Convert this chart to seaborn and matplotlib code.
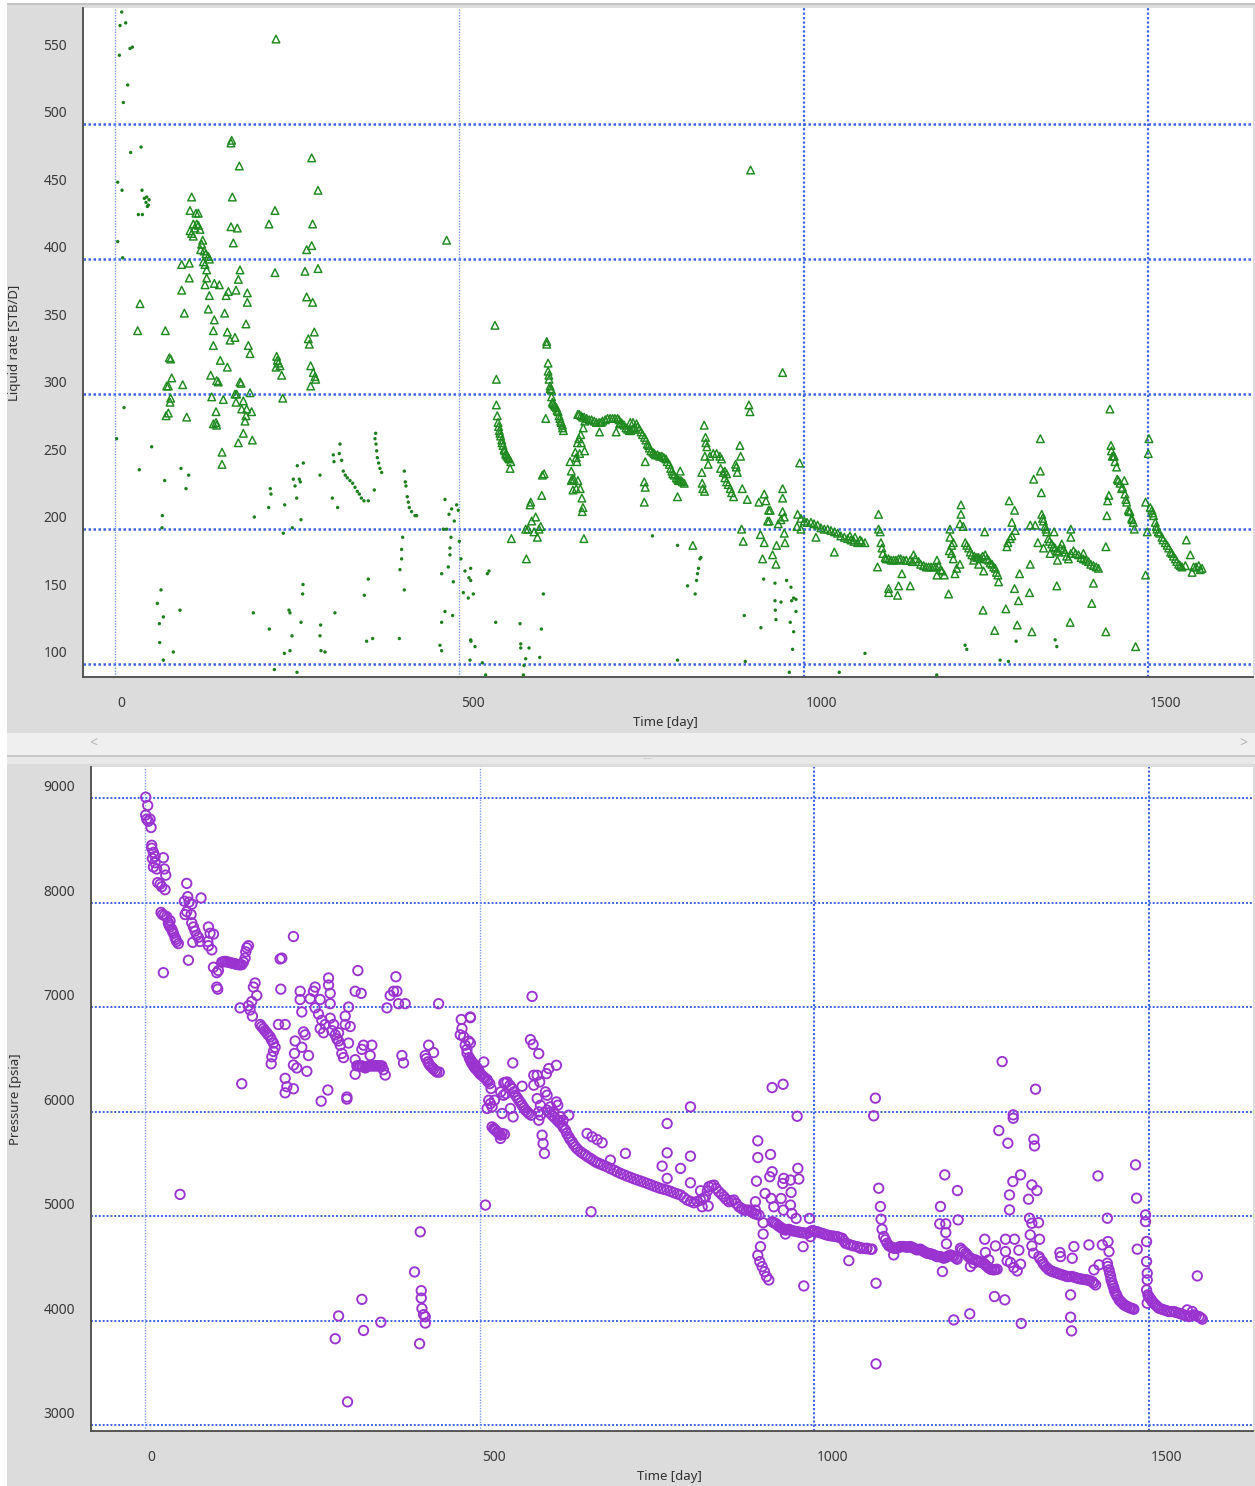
import numpy as np
import matplotlib
matplotlib.use("Agg")
import matplotlib.pyplot as plt
import matplotlib.transforms as mtransforms
from matplotlib.patches import Rectangle
from matplotlib.ticker import MultipleLocator, FixedLocator
import seaborn as sns

# ---------------------------------------------------------------- data
# Liquid rate, triangles (day, STB/D)
rate_tri = [
    (233.8, 563), (169.4, 488), (168.4, 486), (285.6, 475), (180.5, 469), (294.8, 451),
    (111.3, 446), (170.4, 446), (232.3, 436), (108.9, 436), (117.6, 434), (121.0, 434),
    (113.7, 426), (118.6, 426), (121.0, 425), (123.4, 422), (116.1, 423), (108.9, 421),
    (111.3, 419), (113.7, 417), (168.4, 424), (177.6, 423), (223.6, 426), (287.0, 426),
    (127.3, 414), (125.8, 411), (124.4, 407), (129.2, 406), (132.1, 404), (135.5, 402),
    (137.0, 400), (128.3, 398), (130.7, 396), (171.8, 412), (285.6, 410), (278.3, 407),
    (96.8, 396), (107.9, 397), (133.1, 392), (133.1, 386), (130.7, 381),
    (181.5, 392), (179.1, 385), (175.7, 377), (164.6, 376), (161.2, 373),
    (232.3, 390), (275.9, 391), (294.8, 393), (107.9, 386), (96.8, 377), (144.2, 382),
    (151.5, 381), (137.0, 373), (192.1, 375), (192.1, 368), (278.3, 372), (287.0, 368),
    (36.3, 367), (135.5, 363), (159.2, 360), (100.7, 360), (190.2, 352),
    (144.2, 355), (142.8, 347), (163.1, 346), (174.2, 342), (167.0, 340), (289.4, 346),
    (280.7, 341), (282.2, 337), (32.9, 347), (73.1, 347), (142.8, 336), (193.6, 336),
    (196.0, 330), (78.9, 327), (80.8, 326), (234.7, 328), (235.7, 325), (237.2, 323),
    (239.6, 321), (233.8, 320), (242.0, 314), (152.9, 325), (163.1, 320),
    (284.1, 321), (287.9, 316), (290.4, 313), (291.4, 311), (284.1, 306),
    (82.3, 312), (98.3, 307), (138.9, 314), (147.6, 310), (150.1, 309), (75.0, 306),
    (77.4, 306), (183.0, 308), (181.5, 309), (243.5, 297), (174.2, 300), (176.6, 300),
    (196.0, 301), (140.4, 298), (157.3, 296), (175.7, 294), (186.3, 295), (80.8, 297),
    (79.9, 294), (146.7, 287), (183.9, 289), (191.2, 289), (198.4, 287), (190.2, 284),
    (188.8, 280), (77.4, 286), (74.1, 284), (104.1, 283), (146.7, 279), (142.8, 278),
    (147.6, 277), (186.3, 271), (199.4, 266), (179.1, 264), (155.4, 257), (155.4, 248),
    (481.6, 414), (923.0, 466),
    (551.8, 351), (553.8, 311), (553.8, 292),
    (555.1, 284), (556.2, 279), (558.1, 273), (560.0, 269), (561.6, 266), (563.5, 262),
    (565.0, 259), (567.4, 256), (569.8, 254), (572.3, 252), (574.7, 250), (573.7, 245),
    (557.0, 276), (559.0, 271), (562.0, 264), (566.0, 258), (568.0, 255), (571.0, 253),
    (626.9, 339), (626.9, 337),
    (628.9, 323), (628.9, 317), (630.3, 311), (631.8, 306), (633.7, 303), (635.2, 294),
    (637.6, 292), (641.0, 290), (643.4, 287), (644.9, 284), (647.3, 280), (649.7, 277),
    (651.2, 273), (630.0, 314), (632.0, 304), (634.0, 298), (636.0, 293), (639.0, 291),
    (642.0, 288), (646.0, 282), (648.0, 279), (650.0, 275),
    (625.5, 282), (623.1, 241), (620.6, 240), (619.7, 225),
    (603.7, 220), (602.8, 218), (605.1, 206), (610.9, 209), (615.8, 200), (608.5, 198),
    (613.4, 194), (599.8, 200), (596.4, 200), (618.2, 202), (597.4, 178), (575.6, 193),
    (660.8, 250), (662.6, 243), (664.0, 237), (662.6, 236), (666.5, 237), (665.0, 229),
    (669.8, 230), (675.6, 230), (672.2, 236), (668.4, 257), (669.8, 253), (670.8, 250),
    (674.7, 256), (677.1, 264), (681.9, 258), (680.9, 193), (678.0, 223), (679.5, 216),
    (678.5, 213), (671.5, 264), (673.6, 267), (676.3, 270), (680.0, 275), (682.2, 280),
    (672.0, 285), (676.5, 284), (681.3, 283), (688.6, 281), (695.9, 280), (703.1, 279),
    (708.0, 280), (715.2, 282), (722.5, 282), (729.8, 282), (734.6, 279), (739.4, 277),
    (744.3, 274), (749.1, 273), (754.0, 275), (757.4, 278), (761.3, 274), (766.1, 270),
    (771.0, 266), (774.8, 262), (778.2, 258), (783.0, 256), (787.9, 255), (794.2, 254),
    (800.0, 252), (804.9, 248), (808.7, 243), (812.1, 240), (817.0, 237), (821.8, 236),
    (826.7, 234),
    (674.0, 285), (679.0, 283), (685.0, 282), (692.0, 281), (699.0, 279), (706.0, 279),
    (712.0, 281), (719.0, 282), (726.0, 282), (732.0, 281), (737.0, 278), (742.0, 275),
    (747.0, 273), (752.0, 274), (759.0, 276), (764.0, 272), (769.0, 268), (773.0, 263),
    (776.0, 260), (781.0, 257), (785.0, 255), (791.0, 254), (797.0, 253), (802.0, 250),
    (807.0, 245), (810.0, 241), (815.0, 238), (819.0, 236), (824.0, 235),
    (703.6, 272), (727.8, 272), (732.7, 278), (748.3, 279), (752.2, 279),
    (770.0, 250), (768.6, 235), (770.0, 231), (768.6, 220), (816.9, 224), (818.4, 236),
    (820.8, 243), (839.1, 188), (852.2, 242), (852.7, 234), (853.6, 230), (856.1, 228),
    (855.6, 277), (857.5, 268), (858.0, 264), (859.5, 261), (856.6, 254), (863.9, 254),
    (868.7, 256), (873.6, 256), (878.4, 254), (880.8, 252), (861.4, 248),
    (879.4, 245), (883.2, 242), (885.6, 238), (888.1, 235), (890.5, 233), (893.4, 230),
    (895.4, 227), (898.3, 224), (885.6, 243), (888.1, 241),
    (901.2, 248), (903.7, 242), (902.2, 246), (907.5, 262), (908.5, 254), (910.9, 230),
    (918.2, 222), (920.6, 292), (922.1, 287), (935.0, 220), (969.5, 316),
    (969.5, 230), (969.5, 223), (942.8, 226), (945.3, 221), (949.1, 214), (951.5, 214),
    (947.7, 206), (950.1, 206), (937.3, 196), (942.8, 190), (940.4, 178), (954.9, 181),
    (959.8, 174), (960.7, 188), (969.5, 213), (971.9, 209), (971.9, 197), (972.9, 190),
    (963.2, 204), (967.1, 207), (994.2, 249), (909.9, 200), (912.3, 191),
    (991.3, 211), (996.1, 208), (1001.0, 206), (1010.7, 205), (1020.3, 203), (1030.0, 200),
    (1039.7, 199), (1049.4, 197), (1059.1, 194), (1068.8, 192), (1078.5, 190),
    (1005.0, 205), (1015.0, 204), (1025.0, 201), (1035.0, 200), (1045.0, 198),
    (1054.0, 195), (1064.0, 193), (1073.0, 191), (1084.0, 191),
    (990.3, 202), (996.1, 200), (1017.9, 194), (1044.6, 183),
    (1067.3, 195), (1074.6, 194), (1081.9, 192), (1089.1, 190),
    (1108.8, 211), (1108.8, 200), (1111.2, 198), (1112.2, 190), (1113.7, 186), (1115.1, 182),
    (1118.5, 179), (1123.4, 178), (1130.6, 177), (1137.9, 178), (1145.2, 177), (1154.9, 177),
    (1162.1, 178), (1167.0, 176), (1174.2, 173), (1181.5, 172), (1188.8, 172), (1196.0, 173),
    (1200.9, 169),
    (1120.0, 178), (1127.0, 177), (1134.0, 177), (1141.0, 178), (1149.0, 177), (1158.0, 176),
    (1170.0, 174), (1178.0, 172), (1185.0, 172), (1192.0, 172), (1199.0, 170),
    (1107.3, 172), (1123.4, 156), (1123.4, 153), (1137.9, 158), (1136.4, 151),
    (1142.7, 167), (1154.9, 158), (1159.7, 181), (1193.6, 177), (1193.6, 166), (1210.6, 152),
    (1204.3, 166), (1212.5, 200), (1212.5, 194), (1211.6, 184), (1215.0, 182), (1217.4, 178),
    (1219.8, 167), (1222.3, 171), (1215.0, 188), (1217.4, 190),
    (1228.5, 218), (1228.5, 211), (1227.0, 204), (1231.9, 202), (1227.0, 174),
    (1234.7, 190), (1239.6, 186), (1244.4, 181), (1251.7, 179), (1256.5, 178), (1263.8, 181),
    (1268.6, 177), (1273.5, 174), (1278.3, 171), (1282.2, 166), (1283.2, 161),
    (1237.0, 188), (1242.0, 183), (1248.0, 180), (1254.0, 179), (1260.0, 180),
    (1266.0, 178), (1271.0, 175), (1276.0, 172), (1280.0, 168),
    (1246.9, 177), (1254.1, 174), (1261.4, 169), (1262.9, 198), (1260.5, 140), (1277.4, 125),
    (1293.7, 141), (1298.5, 221), (1302.4, 205), (1306.3, 214), (1302.4, 195), (1307.2, 199),
    (1296.6, 190), (1295.1, 187), (1300.0, 193), (1306.3, 156), (1312.1, 147), (1310.2, 129),
    (1313.6, 167), (1329.1, 174), (1328.1, 153), (1331.5, 124),
    (1343.8, 267), (1343.8, 243), (1334.1, 237), (1345.3, 227),
    (1329.1, 203), (1336.3, 203), (1340.2, 190), (1348.4, 186),
    (1345.8, 211), (1348.2, 206), (1350.7, 202), (1353.1, 198), (1355.5, 193), (1360.4, 189),
    (1365.2, 186), (1370.1, 183), (1374.9, 189), (1379.8, 183), (1384.6, 178), (1391.9, 184),
    (1399.2, 181), (1406.4, 178), (1413.7, 176), (1421.0, 173), (1428.2, 171),
    (1347.0, 208), (1352.0, 200), (1357.0, 191), (1363.0, 187), (1368.0, 184),
    (1373.0, 186), (1377.0, 185), (1382.0, 180), (1388.0, 182), (1395.0, 182),
    (1403.0, 179), (1410.0, 177), (1417.0, 174), (1425.0, 172),
    (1363.7, 198), (1357.9, 182), (1368.6, 177), (1388.0, 200), (1388.0, 194), (1406.4, 182),
    (1367.7, 158), (1387.1, 131), (1418.5, 145), (1420.9, 160), (1438.9, 187), (1440.4, 210),
    (1438.9, 124), (1482.1, 113), (1496.6, 166), (1499.0, 198), (1496.6, 220), (1500.5, 256),
    (1501.5, 267),
    (1441.4, 221), (1443.3, 225), (1444.8, 289), (1446.3, 262), (1448.2, 254), (1451.1, 254),
    (1452.1, 250), (1454.5, 246), (1455.5, 237), (1459.4, 234), (1461.8, 230), (1465.7, 236),
    (1466.6, 226), (1469.1, 220), (1471.5, 214), (1473.9, 213), (1476.4, 208), (1478.8, 205),
    (1480.2, 200), (1447.0, 258), (1450.0, 254), (1457.0, 236), (1463.0, 231),
    (1468.0, 222), (1473.0, 213), (1477.0, 207),
    (1503.4, 216), (1505.8, 214), (1508.2, 210), (1510.7, 205), (1513.1, 200), (1517.0, 197),
    (1520.4, 194), (1525.3, 190), (1530.1, 186), (1535.0, 182), (1539.8, 178), (1544.7, 174),
    (1549.5, 172), (1554.4, 173), (1555.8, 192), (1561.6, 181), (1566.5, 172), (1573.8, 173),
    (1578.6, 171), (1564.1, 168), (1507.0, 212), (1512.0, 202), (1515.0, 198),
    (1522.0, 192), (1528.0, 188), (1533.0, 183), (1537.0, 180), (1542.0, 176),
    (1547.0, 173), (1570.0, 172), (1576.0, 170),
]

# Liquid rate, small dots (day, STB/D)
rate_dot = [
    (9.7, 583), (7.3, 573), (15.5, 575), (21.8, 556), (25.2, 557), (6.3, 551), (18.4, 529),
    (12.1, 516), (37.8, 483), (22.7, 479), (3.9, 457), (10.2, 451), (39.2, 451),
    (42.6, 445), (46.0, 446), (49.4, 444), (45.0, 442), (48.4, 440), (47.0, 439),
    (33.9, 433), (39.7, 433), (3.9, 413), (11.1, 401), (13.1, 290), (2.4, 267), (53.2, 261),
    (35.3, 244), (95.8, 245), (107.0, 240), (103.1, 230), (72.1, 236), (68.7, 210),
    (68.2, 201), (202.3, 209), (225.5, 230), (226.5, 226), (223.1, 216), (246.4, 218),
    (264.7, 247), (273.5, 249), (258.9, 237), (267.7, 237), (269.1, 235), (261.4, 232),
    (263.8, 223), (270.1, 207), (257.5, 201), (244.4, 197), (297.7, 240),
    (326.7, 263), (317.0, 255), (325.7, 256), (318.0, 250), (329.1, 251),
    (331.5, 243), (334.4, 240), (337.3, 238), (341.2, 236), (345.1, 234), (348.5, 231),
    (351.9, 228), (354.8, 226), (357.7, 223), (361.5, 221), (315.6, 223), (323.3, 216),
    (367.8, 221), (378.5, 271), (377.5, 267), (379.0, 263), (380.0, 258), (380.9, 253),
    (382.8, 249), (384.8, 245), (387.2, 242), (376.6, 229),
    (420.1, 243), (421.5, 235), (422.5, 232), (424.4, 224), (425.9, 220), (427.3, 216),
    (430.7, 213), (435.6, 210), (438.0, 210),
    (479.2, 222), (488.8, 215), (496.1, 218), (485.0, 211), (492.7, 206), (498.5, 214),
    (476.7, 200), (481.6, 200), (487.9, 194), (500.0, 191), (486.4, 186), (486.4, 181),
    (502.4, 178), (508.2, 169), (514.0, 164), (491.3, 161), (505.8, 153), (513.0, 149),
    (484.0, 172), (474.3, 167), (479.2, 139), (474.3, 131), (490.3, 136), (471.9, 114),
    (474.3, 110), (516.9, 117), (515.5, 103),
    (417.7, 194), (416.2, 185), (416.2, 178), (413.8, 170), (420.1, 155), (412.9, 119),
    (367.8, 163), (362.0, 151), (374.1, 119), (365.4, 117), (319.4, 138),
    (298.6, 129), (297.7, 121), (299.1, 110), (304.9, 109),
    (270.1, 131), (273.0, 159), (272.5, 152), (257.0, 121), (254.1, 110), (245.9, 108),
    (264.3, 94), (254.1, 138), (252.6, 140), (224.1, 126), (231.4, 96), (200.9, 138),
    (94.4, 140), (84.7, 109), (70.2, 103), (64.9, 116), (64.4, 130), (70.2, 135),
    (66.8, 155), (61.5, 145),
    (516.5, 171), (516.5, 162), (520.3, 152), (516.5, 118), (522.8, 113), (540.7, 167),
    (543.1, 169), (552.8, 131), (533.4, 101), (538.2, 92),
    (588.2, 130), (589.2, 115), (589.2, 112), (601.2, 112), (596.4, 104), (593.9, 99),
    (593.0, 92), (616.8, 105), (619.2, 126), (622.1, 152),
    (780.5, 195), (816.9, 188), (816.9, 103),
    (831.4, 158), (842.5, 152), (844.5, 162), (845.9, 167), (847.4, 171), (849.4, 178),
    (850.8, 179), (913.8, 136), (915.2, 102), (941.9, 163), (958.4, 160), (938.0, 127),
    (958.4, 147), (958.9, 140), (959.8, 133), (967.1, 146),
    (975.3, 162), (981.6, 157), (982.6, 147), (985.5, 149), (988.9, 148), (988.9, 139),
    (980.6, 131), (985.5, 124), (984.0, 111), (979.2, 94), (1051.8, 94),
    (1089.1, 108), (1234.5, 114), (1236.9, 111), (1285.4, 103), (1297.5, 102),
    (1308.6, 117), (1365.3, 118), (1367.7, 113), (1193.3, 92),
]

# Pressure, circles (day, psia)
pressure = [
    (1, 9008), (4, 8929), (1, 8837), (2.5, 8798), (5, 8778), (7.5, 8798), (9, 8718),
    (10, 8548), (10, 8520), (12.5, 8480), (11, 8421), (15, 8441), (15, 8381), (12.5, 8341),
    (17.4, 8321), (18.9, 8191), (22.4, 8175), (24.9, 8151), (27.4, 8429), (28.9, 8321),
    (30.9, 8262), (29.9, 8123),
    (62.3, 8183), (63.8, 8056), (65.8, 8004), (58.8, 8012), (69.8, 7984), (62.3, 7913),
    (59.8, 7885), (68.8, 7885), (83.7, 8044),
    (23.9, 7905), (32.4, 7865), (34.9, 7806), (37.4, 7766), (39.9, 7746), (42.4, 7706),
    (44.8, 7667), (47.3, 7627), (49.8, 7607), (37.4, 7825),
    (26, 7885), (29, 7875), (36, 7786), (41, 7726), (46, 7647),
    (69.8, 7806), (72.3, 7766), (74.7, 7726), (77.2, 7687), (79.7, 7667), (82.2, 7627),
    (71.3, 7619), (94.7, 7766), (97.2, 7706), (102.2, 7698), (94.7, 7587), (99.7, 7547),
    (93.7, 7627), (27.4, 7329), (64.8, 7448),
    (102.2, 7381), (107.1, 7329), (109.6, 7349), (107.1, 7191), (108.6, 7171),
    (114.6, 7429), (119.6, 7437), (124.6, 7429), (129.6, 7421), (134.5, 7413), (139.5, 7405),
    (144.5, 7405), (147, 7429), (149.5, 7468), (150.5, 7528), (152, 7567), (154.5, 7587),
    (117, 7433), (122, 7433), (127, 7425), (132, 7417), (137, 7409), (142, 7405),
    (221.7, 7675), (201.8, 7460), (204.3, 7468), (202.8, 7171), (142, 6992), (144.5, 6266),
    (164.4, 7230), (161.9, 7191), (166.9, 7111), (159.4, 7052), (154.5, 7012), (156.9, 6972),
    (160.4, 6913),
    (171.9, 6833), (176.9, 6794), (181.9, 6754), (186.9, 6714), (191.8, 6655), (194.3, 6615),
    (191.8, 6575), (189.4, 6524), (188.4, 6457), (199.3, 6833), (209.3, 6833),
    (174, 6813), (179, 6774), (184, 6734), (189, 6685),
    (231.7, 7151), (231.7, 7072), (234.2, 6953), (224.2, 6675), (223.2, 6556), (221.7, 6445),
    (226.7, 6417), (241.7, 6385), (244.2, 6536), (234.2, 6615), (239.2, 6734), (236.7, 6762),
    (209.3, 6318), (211.8, 6238), (209.3, 6179), (221.7, 6218),
    (246.7, 7080), (251.6, 7151), (254.1, 7191), (261.6, 7072), (274.1, 7278), (274.1, 7211),
    (276.6, 7131), (276.6, 7032), (304, 7000), (313.9, 7151), (322.9, 7131), (317.9, 7349),
    (254.1, 6992), (259.1, 6933), (264.1, 6873), (269, 6833), (261.6, 6794), (266.6, 6754),
    (276.6, 6893), (281.6, 6833), (279.1, 6774), (284.1, 6734), (286.6, 6695), (289.1, 6675),
    (291.6, 6635), (299, 6913), (299, 6833), (306.5, 6813), (304, 6655), (294, 6556),
    (296.5, 6516), (289.1, 6754),
    (263.1, 6099), (273.1, 6206), (301.5, 6139), (301.5, 6119),
    (313.9, 6496), (316.4, 6437), (318.9, 6437), (323.9, 6437), (328.9, 6417), (333.8, 6437),
    (338.8, 6437), (343.8, 6437), (348.8, 6437), (353.8, 6437), (358.8, 6349), (313.9, 6357),
    (326.4, 6635), (338.8, 6635), (336.3, 6536), (323.9, 6595),
    (321, 6437), (326, 6427), (331, 6427), (336, 6437), (341, 6437), (346, 6437),
    (351, 6437), (356, 6400),
    (361.3, 6992), (366.2, 7111), (371.2, 7151), (374.7, 7290), (376.2, 7151), (378.7, 7032),
    (388.6, 7032), (383.7, 6536), (386.1, 6465), (423.6, 6635), (431, 6564), (438.5, 7032),
    (418.6, 6536), (422.6, 6476), (426.1, 6437), (431, 6405), (436, 6377), (439.5, 6377),
    (420, 6506), (424, 6456), (429, 6420), (434, 6390),
    (472.4, 6881), (485.8, 6905), (470.9, 6734), (473.4, 6794), (478.3, 6635), (480.8, 6595),
    (484.3, 6516), (488.3, 6476), (493.3, 6437), (498.3, 6397), (500.8, 6357), (483.3, 6675),
    (476, 6715), (481, 6560), (486, 6496), (491, 6457), (496, 6417),
    (52.3, 5207),
    (411.1, 4849), (402.6, 4465), (412.6, 4286), (412.6, 4215), (413.6, 4115), (416.1, 4056),
    (418.6, 4036), (418.6, 3976), (410.1, 3778),
    (323.9, 4203), (289.1, 4044), (326.4, 3905), (352.3, 3984), (284.1, 3826), (302.5, 3222),
    (578.2, 7102), (486, 6898), (486, 6656), (506, 6474), (549.3, 6465),
    (486, 6490), (491, 6433), (496, 6395), (501, 6363), (506, 6331), (510.9, 6306),
    (514.9, 6267), (516.9, 6220), (513.4, 6108), (515.9, 6076), (518.4, 6045), (521.9, 6108),
    (510.9, 6029), (533.4, 5981), (545.8, 6029), (549.8, 5949), (535.4, 6156), (538.9, 6172),
    (531.4, 6188), (488, 6462), (493, 6414), (498, 6379), (503, 6347), (508, 6318), (512, 6286),
    (518.4, 5853), (520.9, 5837), (523.4, 5821), (525.9, 5806), (528.4, 5790), (530.9, 5774),
    (533.4, 5790), (536.9, 5783), (530.9, 5742), (508.5, 5105), (522, 5829), (527, 5798),
    (535.9, 6274), (540.9, 6283), (548.3, 6220), (553.3, 6156), (558.3, 6108), (563.3, 6060),
    (568.2, 6013), (573.2, 5981), (576.7, 5965), (563.3, 6242),
    (538, 6278), (545, 6250), (551, 6188), (556, 6132), (561, 6084), (566, 6036), (571, 5997),
    (575.7, 6688), (579.7, 6643), (588.1, 6554), (580.7, 6347), (585.7, 6347), (580.7, 6252),
    (589.6, 6283), (599.6, 6363), (603.1, 6411), (614.5, 6443), (598.1, 6188), (600.6, 6156),
    (585.7, 6124), (590.6, 6060), (588.1, 5997), (590.6, 5965), (588.1, 5917), (593.1, 5774),
    (594.6, 5694), (596.6, 5599),
    (605.6, 6045), (610.5, 5997), (614.5, 6092), (616.5, 6060), (620.5, 5949), (624.5, 5917),
    (632.9, 5965), (618, 5917),
    (600.6, 6013), (608.1, 5965), (615.5, 5917), (623, 5870), (628, 5822), (633, 5758),
    (637.9, 5710), (642.9, 5662), (650.4, 5615), (657.9, 5583), (665.3, 5551), (672.8, 5519),
    (680.3, 5497), (690.3, 5471), (700.2, 5440), (710.2, 5408), (720.1, 5382), (730.1, 5357),
    (740.1, 5335), (750, 5312), (760, 5287), (770, 5264), (779.9, 5248), (789.9, 5223),
    (799.9, 5201), (809.8, 5153), (819.8, 5127), (829.8, 5153), (837.2, 5185), (842.2, 5280),
    (849.7, 5296), (857.2, 5232), (864.6, 5185), (872.1, 5137), (879.6, 5153), (887.1, 5089),
    (894.5, 5057), (902, 5057), (909.5, 5025), (917, 5009),
    (604, 5990), (612, 5940), (619, 5893), (625, 5846), (630, 5790), (635, 5734), (640, 5686),
    (646, 5640), (654, 5599), (661, 5567), (669, 5535), (676, 5508), (685, 5484), (695, 5455),
    (705, 5424), (715, 5395), (725, 5370), (735, 5346), (745, 5324), (755, 5300), (765, 5276),
    (775, 5256), (785, 5236), (795, 5212), (805, 5177), (815, 5140), (825, 5140), (834, 5170),
    (840, 5240), (846, 5290), (853, 5264), (861, 5208), (868, 5161), (876, 5145), (883, 5121),
    (891, 5073), (898, 5057), (906, 5041), (913, 5017),
    (660.3, 5790), (667.8, 5758), (675.3, 5732), (682.8, 5701), (695.2, 5535), (717.6, 5599),
    (779.9, 5885), (779.9, 5605), (814.7, 6045), (772.4, 5478), (799.9, 5456), (814.7, 5573),
    (814.7, 5318), (779.9, 5360), (829.8, 5242), (832.2, 5089), (841.2, 5096), (666.3, 5041),
    (915.3, 5720), (915.3, 5560), (913.3, 5334), (934.3, 5589), (936.7, 5424), (933.2, 5376),
    (954.1, 5360), (964.1, 5344), (952.6, 5312), (965.1, 5226), (975.1, 5456), (976.6, 5354),
    (926.2, 5216), (935.2, 5168), (950.1, 5168), (964.1, 5105), (939.2, 5089), (953.6, 5057),
    (966.1, 5025), (972.6, 4977), (992.5, 4977),
    (936.7, 6229), (953.1, 6261), (974.1, 5955),
    (915.3, 4624), (918.3, 4564), (921.8, 4516), (925.3, 4468), (928.3, 4420), (931.8, 4388),
    (923.3, 4828), (983, 4707), (984, 4331), (1051.3, 4573),
    (936.7, 4946), (941.7, 4930), (946.7, 4904), (951.6, 4882), (956.6, 4866), (961.6, 4873),
    (966.6, 4860), (974.1, 4850), (981.5, 4841), (989, 4834), (996.5, 4860), (1003.9, 4850),
    (1011.4, 4834), (1018.9, 4818), (1026.4, 4809), (1033.8, 4803), (1041.3, 4787),
    (1046.3, 4739), (1053.8, 4723), (1063.7, 4707), (1073.7, 4691), (1083.7, 4682),
    (939, 4938), (944, 4917), (949, 4893), (954, 4874), (959, 4870), (964, 4866), (970, 4855),
    (978, 4845), (985, 4838), (993, 4847), (1000, 4855), (1007, 4842), (1015, 4826),
    (1022, 4813), (1030, 4806), (1037, 4795), (1044, 4763), (1050, 4731), (1058, 4715),
    (1068, 4699), (1078, 4687),
    (956.6, 4828), (994, 4803), (919.3, 4707), (911.8, 5057), (911.8, 5137), (923.3, 4936),
    (1090.9, 6128), (1088.4, 5959), (1095.9, 5266), (1098.4, 5091), (1099.4, 4970),
    (1100.9, 4874), (1103.4, 4804), (1105.9, 4772), (1108.4, 4740), (1113.4, 4708),
    (1118.3, 4692), (1123.3, 4692), (1128.3, 4708), (1133.3, 4708), (1138.3, 4702),
    (1143.3, 4708), (1148.2, 4692), (1153.2, 4676), (1158.2, 4683), (1163.2, 4660),
    (1168.2, 4644), (1173.2, 4638), (1178.1, 4628), (1183.1, 4612), (1188.1, 4612),
    (1193.1, 4596), (1198.1, 4612), (1203.1, 4628), (1208.1, 4612), (1213, 4587),
    (1111, 4716), (1116, 4700), (1121, 4692), (1126, 4700), (1131, 4708), (1136, 4705),
    (1141, 4705), (1146, 4700), (1151, 4684), (1156, 4680), (1161, 4671), (1166, 4652),
    (1171, 4641), (1176, 4633), (1181, 4620), (1186, 4612), (1191, 4604), (1196, 4604),
    (1201, 4620), (1206, 4620), (1211, 4600),
    (1068.5, 4692), (1078.4, 4692), (1085.9, 4683), (1091.9, 4357), (1091.9, 3585),
    (1118.3, 4628),
    (1188.1, 5091), (1187.1, 4925), (1196.1, 4925), (1196.1, 4842), (1197.1, 4734),
    (1191.1, 4469), (1194.6, 5394), (1213.5, 5244), (1214.5, 4963), (1208, 4006), (1231.9, 4064),
    (1218, 4692), (1223, 4660), (1228, 4628), (1232.9, 4596), (1240.4, 4580), (1245.4, 4565),
    (1252.9, 4549), (1257.9, 4517), (1262.9, 4491), (1267.9, 4485), (1272.8, 4491),
    (1220, 4676), (1226, 4644), (1230, 4612), (1236, 4588), (1243, 4572), (1249, 4557),
    (1255, 4533), (1260, 4504), (1265, 4488), (1270, 4488),
    (1232.9, 4517), (1237.9, 4549), (1254.3, 4778), (1255.3, 4651), (1270.3, 4714),
    (1260.3, 4581),
    (1268.8, 4230), (1284.3, 4198), (1280.3, 6478), (1275.3, 5818), (1288.8, 5697),
    (1296.8, 5968), (1296.8, 5936), (1330.2, 6214), (1327.7, 5735), (1328.7, 5671),
    (1307.8, 5394), (1296.3, 5330), (1291.3, 5202), (1291.3, 5059), (1285.3, 4778),
    (1285.3, 4660), (1298.8, 4778), (1305.3, 4673), (1287.8, 4571), (1292.8, 4555),
    (1297.8, 4507), (1302.8, 4475), (1307.8, 4539), (1308.8, 3972),
    (1324.7, 5298), (1332.2, 5244), (1319.7, 5161), (1321.2, 4979), (1324.7, 4931),
    (1334.7, 4937), (1322.2, 4820), (1336.2, 4778), (1324.7, 4714), (1327.2, 4644),
    (1335.2, 4612), (1340.2, 4565), (1345.1, 4517), (1350.1, 4485), (1355.1, 4469),
    (1362.6, 4453), (1370.1, 4437), (1377.5, 4421), (1385, 4421), (1392.5, 4405),
    (1400, 4395), (1407.4, 4389), (1414.9, 4373), (1419.9, 4341),
    (1337, 4590), (1342, 4541), (1348, 4500), (1353, 4477), (1359, 4461), (1366, 4445),
    (1374, 4429), (1381, 4421), (1389, 4413), (1396, 4400), (1404, 4392), (1411, 4381),
    (1417, 4357),
    (1366.5, 4651), (1367.6, 4612), (1385, 4596), (1387.5, 4708), (1382.5, 4246),
    (1382.5, 4032), (1384, 3901), (1409.9, 4724), (1423.4, 5384), (1417.4, 4485),
    (1424.9, 4533), (1429.9, 4724), (1437.4, 4979), (1438.4, 4756), (1439.9, 4660),
    (1479.6, 5490), (1481.1, 5171), (1482.1, 4683), (1494.5, 5011), (1494.5, 4947),
    (1437.4, 4549), (1439.9, 4485), (1442.4, 4421), (1444.8, 4357), (1447.3, 4309),
    (1449.8, 4261), (1452.3, 4230), (1457.3, 4182), (1462.3, 4150), (1467.1, 4134),
    (1472.1, 4118), (1477.1, 4108),
    (1438, 4517), (1441, 4453), (1443, 4389), (1446, 4333), (1448, 4285), (1451, 4245),
    (1455, 4198), (1460, 4166), (1465, 4142), (1470, 4126), (1475, 4113),
    (1496, 4756), (1496, 4565), (1497, 4453), (1497, 4389), (1496, 4293), (1498, 4246),
    (1501, 4214), (1504.5, 4182), (1509.5, 4150), (1514.5, 4118), (1522, 4102),
    (1529.4, 4086), (1536.9, 4086), (1544.4, 4070), (1551.9, 4054), (1559.4, 4038),
    (1566.8, 4054), (1574.3, 4038), (1579.2, 4013), (1497, 4166), (1571.8, 4427),
    (1556.8, 4102), (1564.3, 4086),
    (1499, 4230), (1503, 4198), (1507, 4166), (1512, 4134), (1518, 4110), (1526, 4094),
    (1533, 4086), (1540, 4078), (1548, 4062), (1555, 4046), (1562, 4046), (1570, 4046),
    (1577, 4026),
]

rate_ticks = [100, 150, 200, 250, 300, 350, 400, 450, 500, 550]
rate_grid = [100, 200, 300, 400, 500]
pres_ticks = [3000, 4000, 5000, 6000, 7000, 8000, 9000]
time_ticks = [0, 500, 1000, 1500]

# ---------------------------------------------------------------- style
sns.set_theme(style="white")
plt.rcParams["font.family"] = ["Noto Sans", "DejaVu Sans"]

W, H = 1255, 1486
fig = plt.figure(figsize=(W / 100, H / 100), dpi=100)
fig.patch.set_facecolor("white")


def px_rect(x0, y0, x1, y1, color):
    """Rectangle given in pixel coordinates measured from the top-left."""
    fig.add_artist(Rectangle((x0 / W, 1 - y1 / H), (x1 - x0) / W, (y1 - y0) / H,
                             transform=fig.transFigure, facecolor=color,
                             edgecolor="none", zorder=-5))


# window chrome: two gray panes, scrollbar strip and splitter
px_rect(7, 3, W, 5, "#c4c4c4")
px_rect(7, 5, W, 733, "#dcdcdc")
px_rect(7, 733, W, 755, "#efefef")
px_rect(7, 755, W, 757, "#c9c9c9")
px_rect(7, 757, W, 764, "#e8e8e8")
px_rect(7, 764, W, H, "#dcdcdc")
fig.text(93 / W, 1 - 744 / H, "<", color="#b4b4b4", fontsize=10, ha="center", va="center")
fig.text(1243 / W, 1 - 744 / H, ">", color="#b4b4b4", fontsize=10, ha="center", va="center")
fig.text(648 / W, 1 - 759 / H, "\u00b7\u00b7\u00b7\u00b7\u00b7\u00b7", color="#9a9a9a",
         fontsize=4, ha="center", va="center")

GRID_BOLD = "#3d63e3"
GRID_LIGHT = "#7d9cf2"
SPINE = "#4a4a4a"
DOTTED = (0, (1, 1))


def style_axes(ax, xlim, ylim, yticks, ymin_step, ylabel, ylab_x):
    ax.set_facecolor("white")
    ax.set_xlim(*xlim)
    ax.set_ylim(*ylim)
    for s in ("top", "right"):
        ax.spines[s].set_visible(False)
    for s in ("left", "bottom"):
        ax.spines[s].set_color(SPINE)
        ax.spines[s].set_linewidth(1.3)
    ax.xaxis.set_major_locator(FixedLocator(time_ticks))
    ax.xaxis.set_minor_locator(MultipleLocator(100))
    ax.yaxis.set_major_locator(FixedLocator(yticks))
    ax.yaxis.set_minor_locator(MultipleLocator(ymin_step))
    ax.tick_params(axis="both", which="major", direction="out", length=9.5, width=1.3,
                   color=SPINE, labelsize=10, labelcolor="#3a3a3a", pad=2)
    ax.tick_params(axis="x", which="minor", direction="out", length=3.5, width=1.2, color=SPINE)
    ax.tick_params(axis="y", which="minor", direction="out", length=5, width=1.2, color=SPINE)
    ax.tick_params(axis="x", which="major", pad=4)
    ax.set_xticks(time_ticks)
    ax.set_xticklabels([str(t) for t in time_ticks])
    ax.set_yticks(yticks)
    ax.set_yticklabels([str(t) for t in yticks])
    up = mtransforms.ScaledTranslation(0, 3 / 100, fig.dpi_scale_trans)
    for lab in ax.get_yticklabels():
        lab.set_verticalalignment("bottom")
        lab.set_transform(lab.get_transform() + up)
    right = mtransforms.ScaledTranslation(2 / 100, 0, fig.dpi_scale_trans)
    for lab in ax.get_xticklabels():
        lab.set_horizontalalignment("left")
        lab.set_transform(lab.get_transform() + right)
    ax.set_xlabel("Time [day]", fontsize=9.5, color="#303030")
    ax.xaxis.set_label_coords(0.498, -0.058)
    ax.set_ylabel(ylabel, fontsize=9.5, color="#303030")
    ax.yaxis.set_label_coords(ylab_x, 0.5)
    ax.grid(False)


# ---------------------------------------------------------------- liquid rate
ax1 = fig.add_axes([83 / W, 1 - 677 / H, 1170 / W, 669 / H])
style_axes(ax1, (-46.5, 1652.6), (90.5, 586), rate_ticks, 10, "Liquid rate [STB/D]", -0.053)
for v in rate_grid:
    ax1.axhline(v, color=GRID_BOLD, lw=1.8, ls=DOTTED, zorder=1)
for t in time_ticks:
    bold = t >= 1000
    ax1.axvline(t, color=GRID_BOLD if bold else GRID_LIGHT, lw=1.6 if bold else 1.0,
                ls=DOTTED, zorder=1)

tri = np.array(rate_tri)
dot = np.array(rate_dot)
sns.scatterplot(x=dot[:, 0], y=dot[:, 1], ax=ax1, marker="o", s=6, color="#1c7f1c",
                edgecolor="none", zorder=3, legend=False)
sns.scatterplot(x=tri[:, 0], y=tri[:, 1], ax=ax1, marker="^", s=30, facecolor="none",
                edgecolor="#1f8a1f", linewidth=1.05, zorder=4, legend=False)

# ---------------------------------------------------------------- pressure
ax2 = fig.add_axes([91 / W, 1 - 1431 / H, 1162 / W, 664 / H])
style_axes(ax2, (-80.7, 1655), (2943, 9297), pres_ticks, 100, "Pressure [psia]", -0.059)
for v in pres_ticks:
    ax2.axhline(v, color=GRID_BOLD, lw=1.4, ls=DOTTED, zorder=1)
for t in time_ticks:
    bold = t >= 1000
    ax2.axvline(t, color=GRID_BOLD if bold else GRID_LIGHT, lw=1.5 if bold else 1.0,
                ls=DOTTED, zorder=1)

pr = np.array(pressure)
sns.scatterplot(x=pr[:, 0], y=pr[:, 1], ax=ax2, marker="o", s=46, facecolor="none",
                edgecolor="#9a33d0", linewidth=1.35, zorder=4, legend=False)

fig.savefig("out.png", dpi=100)
